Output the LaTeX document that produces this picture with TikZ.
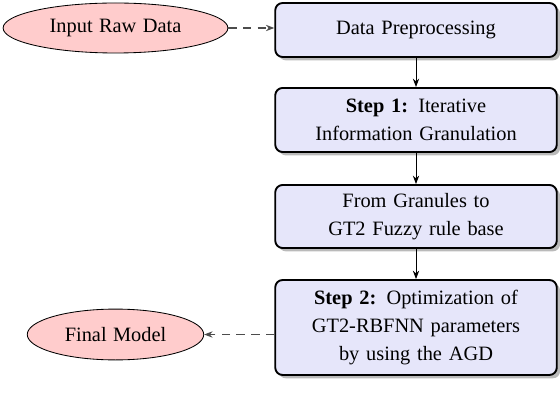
\documentclass[tikz,border=0pt]{standalone}
\usepackage{fontspec}
\setmainfont{Liberation Serif}[WordSpace={1.25,0.5,0.3}]
\usetikzlibrary{shapes.geometric,shadows,arrows.meta}
\definecolor{boxfill}{RGB}{230,230,250}
\definecolor{ovalfill}{RGB}{255,204,204}
\begin{document}
\begin{tikzpicture}[x=0.476pt,y=-0.476pt,
  stage/.style={draw=black, line width=0.9pt, rounded corners=3.5pt, fill=boxfill,
    minimum width=134pt, text width=124pt, align=center, inner sep=0pt,
    font=\fontsize{9.7}{13.5}\selectfont,
    drop shadow={shadow xshift=1.6pt, shadow yshift=-1.6pt, fill=black!45, opacity=0.6}},
  oval/.style={ellipse, draw=black, line width=0.4pt, fill=ovalfill, inner sep=0pt,
    font=\fontsize{9.7}{12}\selectfont},
  flow/.style={-{Stealth[length=4pt,width=3pt]}, line width=0.4pt},
  side/.style={-{Stealth[length=4pt,width=3pt]}, dash pattern=on 4pt off 3pt,
    line width=0.6pt, draw=black!70}]
  \useasboundingbox (0,0) rectangle (560,394);
  \node[stage, minimum height=25.7pt] (pre) at (416,30) {Data Preprocessing};
  \node[stage, minimum height=30.5pt] (s1) at (416,120) {\textbf{Step 1:} Iterative\\Information Granulation};
  \node[stage, minimum height=30pt] (rb) at (416,216.5) {From Granules to\\GT2 Fuzzy rule base};
  \node[stage, minimum height=45.2pt] (s2) at (416,327.5) {\textbf{Step 2:} Optimization of\\GT2-RBFNN parameters\\by using the AGD};
  \node[oval, minimum width=107pt, minimum height=23.8pt] (raw) at (115.5,28) {Input Raw Data};
  \node[oval, minimum width=84pt, minimum height=24.2pt] (final) at (115.5,334.5) {Final Model};
  \draw[side] (raw.east) -- (raw.east -| pre.west);
  \draw[flow] (pre) -- (s1);
  \draw[flow] (s1) -- (rb);
  \draw[flow] (rb) -- (s2);
  \draw[side] (final.east -| s2.west) -- (final.east);
\end{tikzpicture}
\end{document}
